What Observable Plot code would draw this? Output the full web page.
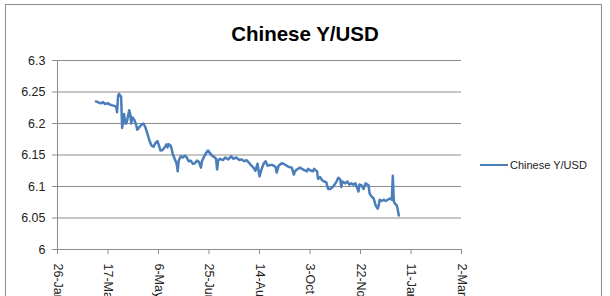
<!DOCTYPE html>
<html>
<head>
<meta charset="utf-8">
<script src="https://cdn.jsdelivr.net/npm/d3@7"></script>
<script src="https://cdn.jsdelivr.net/npm/@observablehq/plot@0.6"></script>
<style>
  html, body { margin: 0; padding: 0; background: #fff; overflow: hidden; }
  #wrap { position: relative; width: 610px; height: 296px; overflow: hidden; font-family: "Liberation Sans", Arial, sans-serif; }
  #frame { position: absolute; left: 5px; top: 4px; width: 597px; height: 300px; border: 1px solid #8c8c8c; box-sizing: border-box; pointer-events: none; }
  #title { position: absolute; left: 0; width: 610px; top: 22px; text-align: center; font-weight: bold; font-size: 20.5px; color: #000; }
  #legend { position: absolute; left: 480px; top: 159px; display: flex; align-items: center; font-size: 11px; color: #222; }
  #legend .sw { width: 28px; height: 0; border-top: 2.5px solid #4a7ebb; margin-right: 2px; }
  #chart { position: absolute; left: 0; top: 0; }
</style>
</head>
<body>
<div id="wrap">
  <div id="chart"></div>
  <div id="title">Chinese Y/USD</div>
  <div id="legend"><div class="sw"></div><span>Chinese Y/USD</span></div>
  <div id="frame"></div>
</div>
<script>
const seriesName = "Chinese Y/USD";

const dates = [
  "2013-03-05","2013-03-08","2013-03-10","2013-03-12","2013-03-14","2013-03-17","2013-03-19","2013-03-23","2013-03-25","2013-03-26",
  "2013-03-27","2013-03-28","2013-03-30","2013-03-31","2013-04-02","2013-04-03","2013-04-04","2013-04-05","2013-04-07","2013-04-08",
  "2013-04-09","2013-04-10","2013-04-12","2013-04-14","2013-04-15","2013-04-17","2013-04-19","2013-04-21","2013-04-23","2013-04-25",
  "2013-04-27","2013-04-29","2013-05-01","2013-05-03","2013-05-05","2013-05-07","2013-05-08","2013-05-10","2013-05-12","2013-05-14",
  "2013-05-15","2013-05-16","2013-05-18","2013-05-19","2013-05-20","2013-05-22","2013-05-24","2013-05-25","2013-05-26","2013-05-28",
  "2013-05-30","2013-06-01","2013-06-03","2013-06-05","2013-06-07","2013-06-09","2013-06-11","2013-06-13","2013-06-15","2013-06-17",
  "2013-06-18","2013-06-20","2013-06-22","2013-06-24","2013-06-26","2013-06-28","2013-06-30","2013-07-02","2013-07-03","2013-07-04",
  "2013-07-06","2013-07-09","2013-07-11","2013-07-14","2013-07-17","2013-07-19","2013-07-22","2013-07-25","2013-07-27","2013-07-30",
  "2013-08-01","2013-08-04","2013-08-06","2013-08-08","2013-08-10","2013-08-12","2013-08-14","2013-08-16","2013-08-18","2013-08-20",
  "2013-08-22","2013-08-24","2013-08-27","2013-08-30","2013-08-31","2013-09-02","2013-09-05","2013-09-08","2013-09-12","2013-09-15",
  "2013-09-17","2013-09-18","2013-09-20","2013-09-23","2013-09-26","2013-09-30","2013-10-01","2013-10-04","2013-10-06","2013-10-07",
  "2013-10-10","2013-10-11","2013-10-13","2013-10-15","2013-10-17","2013-10-19","2013-10-21","2013-10-23","2013-10-26","2013-10-29",
  "2013-10-31","2013-11-02","2013-11-03","2013-11-04","2013-11-07","2013-11-09","2013-11-11","2013-11-13","2013-11-15","2013-11-17",
  "2013-11-20","2013-11-21","2013-11-23","2013-11-25","2013-11-27","2013-11-30","2013-12-01","2013-12-03","2013-12-05","2013-12-07",
  "2013-12-09","2013-12-10","2013-12-11","2013-12-13","2013-12-15","2013-12-17","2013-12-19","2013-12-21","2013-12-23","2013-12-24",
  "2013-12-25","2013-12-26","2013-12-28","2013-12-30"
];

const rates = [
  6.235,6.233,6.232,6.234,6.231,6.232,6.230,6.228,6.227,6.218,
  6.244,6.247,6.242,6.193,6.215,6.200,6.200,6.205,6.221,6.215,
  6.200,6.210,6.206,6.197,6.190,6.194,6.198,6.200,6.194,6.184,
  6.173,6.165,6.163,6.169,6.172,6.162,6.157,6.158,6.162,6.167,
  6.162,6.167,6.165,6.160,6.152,6.144,6.136,6.124,6.141,6.148,
  6.146,6.149,6.146,6.140,6.141,6.136,6.137,6.141,6.139,6.130,
  6.140,6.147,6.153,6.157,6.153,6.149,6.147,6.144,6.127,6.141,
  6.144,6.142,6.146,6.143,6.148,6.144,6.146,6.142,6.143,6.140,
  6.142,6.137,6.133,6.130,6.125,6.136,6.116,6.127,6.136,6.140,
  6.133,6.134,6.134,6.131,6.122,6.133,6.137,6.135,6.131,6.130,
  6.119,6.124,6.127,6.130,6.127,6.124,6.128,6.125,6.124,6.128,
  6.124,6.112,6.115,6.110,6.108,6.107,6.096,6.096,6.100,6.107,
  6.114,6.111,6.099,6.108,6.105,6.108,6.103,6.105,6.103,6.105,
  6.092,6.103,6.102,6.096,6.105,6.102,6.089,6.084,6.081,6.070,
  6.065,6.070,6.079,6.077,6.079,6.077,6.079,6.081,6.079,6.117,
  6.076,6.073,6.070,6.054
];

const xTickDates = ["2013-01-26","2013-03-17","2013-05-06","2013-06-25","2013-08-14","2013-10-03","2013-11-22","2014-01-11","2014-03-02"];
const xTickLabels = ["26-Jan","17-Mar","6-May","25-Jun","14-Aug","3-Oct","22-Nov","11-Jan","2-Mar"];
const yTicks = [6, 6.05, 6.1, 6.15, 6.2, 6.25, 6.3];
const yTickLabels = ["6","6.05","6.1","6.15","6.2","6.25","6.3"];

const data = dates.map((d, i) => ({date: new Date(d), rate: rates[i]}));
const xTicks = xTickDates.map(d => new Date(d));

const plot = Plot.plot({
  width: 610,
  height: 296,
  marginLeft: 57,
  marginRight: 149,
  marginTop: 60,
  marginBottom: 47,
  style: {fontFamily: "Liberation Sans, Arial, sans-serif", fontSize: "12px", color: "#222", background: "transparent", overflow: "hidden"},
  x: {type: "utc", domain: [xTicks[0], xTicks[xTicks.length - 1]]},
  y: {domain: [6, 6.3]},
  marks: [
    Plot.gridY(yTicks, {stroke: "#8c8c8c", strokeOpacity: 1, strokeWidth: 1}),
    Plot.ruleX([xTicks[0]], {stroke: "#8c8c8c", strokeWidth: 1}),
    Plot.axisY({ticks: yTicks, tickFormat: (d) => yTickLabels[yTicks.indexOf(d)], tickSize: 5, tickPadding: 7, fontSize: 12.5, stroke: "#8c8c8c", fill: "#222", label: null}),
    Plot.axisX({ticks: xTicks, tickFormat: (d) => xTickLabels[xTicks.findIndex(t => +t === +d)], tickSize: 5, tickPadding: 9, fontSize: 12.5, tickRotate: 90, stroke: "#8c8c8c", fill: "#222", label: null}),
    Plot.line(data, {x: "date", y: "rate", stroke: "#4a7ebb", strokeWidth: 2.5, strokeLinejoin: "round", strokeLinecap: "round"})
  ]
});
document.getElementById("chart").appendChild(plot);
</script>
</body>
</html>
